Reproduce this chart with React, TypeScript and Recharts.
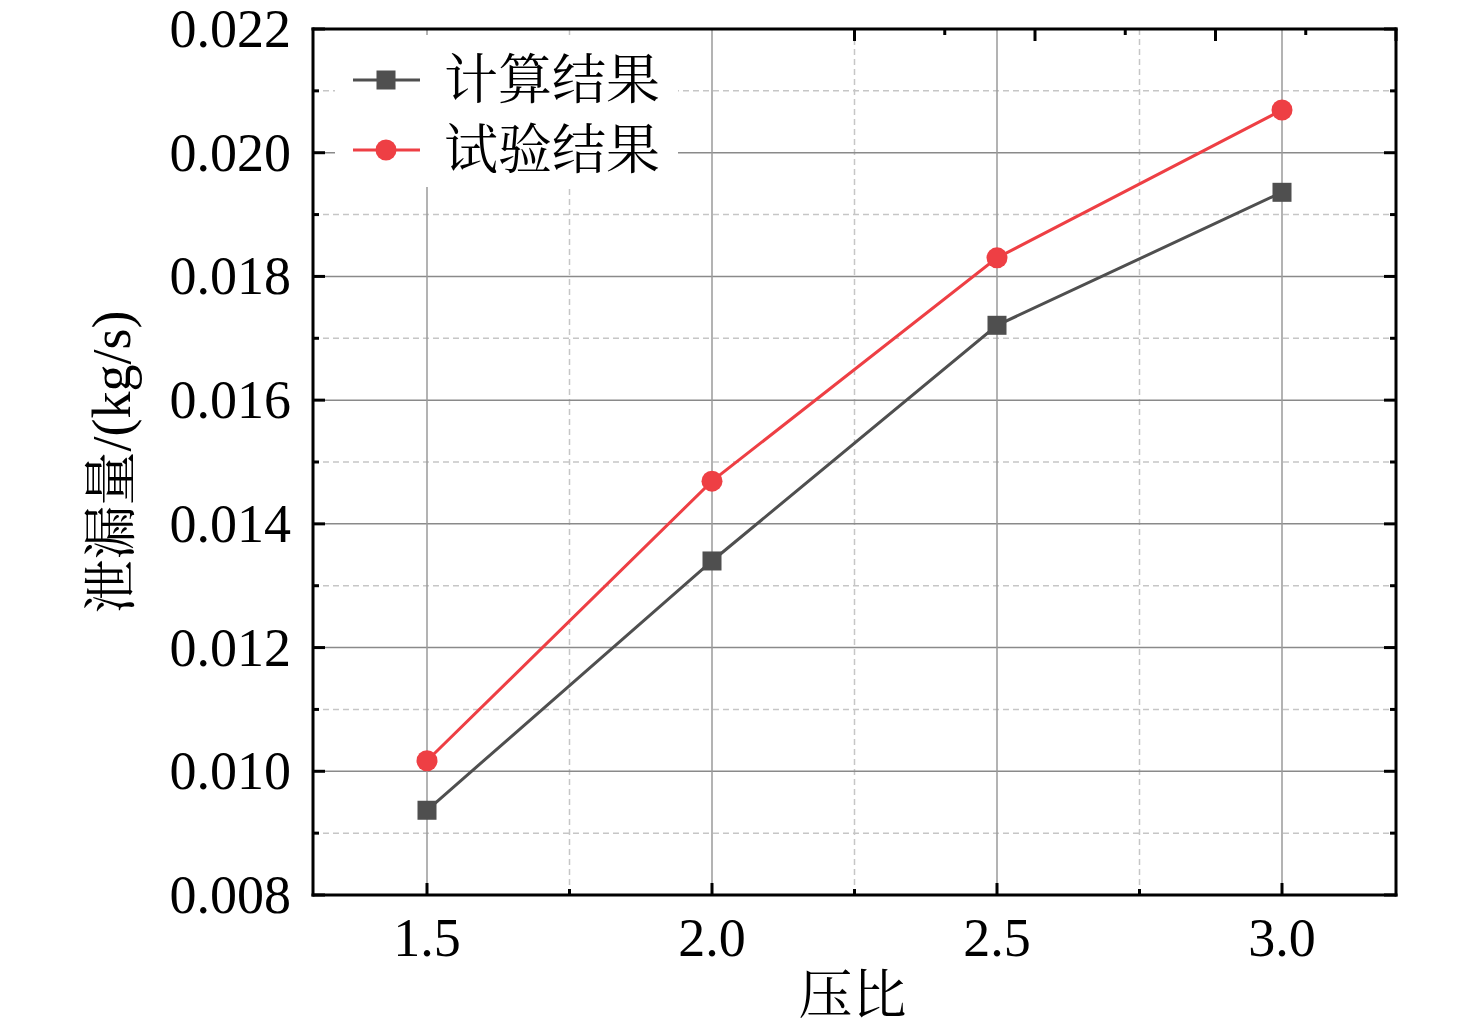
import React from 'react';
import { LineChart, Line, XAxis, YAxis, ReferenceLine, Legend } from 'recharts';

const pressureRatio = [1.5, 2.0, 2.5, 3.0];
const calcLeak = [0.00937, 0.0134, 0.01721, 0.01936];
const testLeak = [0.01017, 0.01469, 0.0183, 0.02069];

const xMajorTicks = [1.5, 2.0, 2.5, 3.0];
const xMinorTicks = [1.75, 2.25, 2.75];
const yMajorTicks = [0.008, 0.01, 0.012, 0.014, 0.016, 0.018, 0.02, 0.022];
const yMinorTicks = [0.009, 0.011, 0.013, 0.015, 0.017, 0.019, 0.021];

const seriesNames = { calc: '计算结果', test: '试验结果' };
const xTitle = '压比';
const yTitle = '泄漏量/(kg/s)';

const data = pressureRatio.map((x, i) => ({ x, calc: calcLeak[i], test: testLeak[i] }));

const FONT = "'Liberation Serif', 'Times New Roman', 'Noto Serif CJK SC', 'Noto Sans CJK SC', serif";
const CALC_COLOR = '#4f4f4f';
const TEST_COLOR = '#ee3f44';
const MAJOR_LEN = 12;
const MINOR_LEN = 6;

const xTicksAll = [...xMajorTicks, ...xMinorTicks].sort((a, b) => a - b);
const yTicksAll = [...yMajorTicks, ...yMinorTicks].sort((a, b) => a - b);
const xMajorSet = new Set(xMajorTicks);
const yMajorSet = new Set(yMajorTicks);

const makeTick = (orient: 'left' | 'right' | 'top' | 'bottom') => (props: any) => {
  const { x, y, payload } = props;
  const v = payload.value;
  const isX = orient === 'top' || orient === 'bottom';
  const major = isX ? xMajorSet.has(v) : yMajorSet.has(v);
  const len = major ? MAJOR_LEN : MINOR_LEN;
  let line;
  if (orient === 'left') line = <line x1={x} y1={y} x2={x + len} y2={y} stroke="#000" strokeWidth={3} />;
  else if (orient === 'right') line = <line x1={x} y1={y} x2={x - len} y2={y} stroke="#000" strokeWidth={3} />;
  else if (orient === 'top') line = <line x1={x} y1={y} x2={x} y2={y + len} stroke="#000" strokeWidth={3} />;
  else line = <line x1={x} y1={y} x2={x} y2={y - len} stroke="#000" strokeWidth={3} />;
  let label = null;
  if (major && orient === 'left') {
    label = (
      <text x={x - 22} y={y} textAnchor="end" dominantBaseline="central" fontSize={54} fontFamily={FONT} fill="#000">
        {v.toFixed(3)}
      </text>
    );
  } else if (major && orient === 'bottom') {
    label = (
      <text x={x} y={y + 43} textAnchor="middle" dominantBaseline="central" fontSize={54} fontFamily={FONT} fill="#000">
        {v.toFixed(1)}
      </text>
    );
  }
  return (
    <g>
      {line}
      {label}
    </g>
  );
};

const SquareDot = (props: any) => {
  const { cx, cy } = props;
  if (cx == null || cy == null) return null;
  return <rect x={cx - 9.5} y={cy - 9.5} width={19} height={19} fill={CALC_COLOR} />;
};
const CircleDot = (props: any) => {
  const { cx, cy } = props;
  if (cx == null || cy == null) return null;
  return <circle cx={cx} cy={cy} r={10.5} fill={TEST_COLOR} />;
};

const LegendContent = (props: any) => {
  const payload = props.payload || [];
  return (
    <svg width={343} height={152} style={{ display: 'block' }}>
      <rect x={0} y={0} width={343} height={152} fill="#fff" />
      {payload.map((p: any, i: number) => {
        const cy = 45 + i * 70;
        const isCalc = p.dataKey === 'calc';
        const color = isCalc ? CALC_COLOR : TEST_COLOR;
        return (
          <g key={p.dataKey}>
            <line x1={18} y1={cy} x2={85} y2={cy} stroke={color} strokeWidth={3} />
            {isCalc ? (
              <rect x={51 - 9.5} y={cy - 9.5} width={19} height={19} fill={color} />
            ) : (
              <circle cx={51} cy={cy} r={10.5} fill={color} />
            )}
            <text x={109} y={cy + 1} dominantBaseline="central" fontSize={54} fontFamily={FONT} fill="#000">
              {p.value}
            </text>
          </g>
        );
      })}
    </svg>
  );
};

export default function App() {
  return (
    <div style={{ width: 1460, height: 1016, position: 'relative', background: '#fff' }}>
      <style>{'.recharts-surface{overflow:visible}'}</style>
      <LineChart
        width={1460}
        height={1016}
        data={data}
        margin={{ top: 11, right: 62, bottom: 69, left: 105 }}
      >
        {yMinorTicks.map((v) => (
          <ReferenceLine key={'ym' + v} y={v} stroke="#c6c6c6" strokeWidth={1.5} strokeDasharray="6 4" />
        ))}
        {xMinorTicks.map((v) => (
          <ReferenceLine key={'xm' + v} x={v} stroke="#c6c6c6" strokeWidth={1.5} strokeDasharray="6 4" />
        ))}
        {yMajorTicks.map((v) => (
          <ReferenceLine key={'yM' + v} y={v} stroke="#8a8a8a" strokeWidth={1.5} />
        ))}
        {xMajorTicks.map((v) => (
          <ReferenceLine key={'xM' + v} x={v} stroke="#9a9a9a" strokeWidth={1.5} />
        ))}
        <XAxis
          xAxisId={0}
          dataKey="x"
          type="number"
          domain={[1.3, 3.2]}
          allowDataOverflow
          ticks={xTicksAll}
          interval={0}
          height={60}
          tickSize={0}
          tickMargin={0}
          tickLine={false}
          axisLine={{ stroke: '#000', strokeWidth: 3, strokeLinecap: 'square' }}
          tick={makeTick('bottom')}
          label={(p: any) => {
            const vb = p.viewBox || {};
            return (
              <text
                x={vb.x + vb.width / 2 - 2}
                y={vb.y + 101}
                textAnchor="middle"
                dominantBaseline="central"
                fontSize={54}
                fontFamily={FONT}
                fill="#000"
              >
                {xTitle}
              </text>
            );
          }}
        />
        <XAxis
          xAxisId="top"
          orientation="top"
          type="number"
          domain={[1.3, 3.2]}
          allowDataOverflow
          ticks={xTicksAll}
          interval={0}
          height={10}
          tickSize={0}
          tickMargin={0}
          tickLine={false}
          axisLine={{ stroke: '#000', strokeWidth: 3, strokeLinecap: 'square' }}
          tick={makeTick('top')}
        />
        <YAxis
          yAxisId={0}
          type="number"
          domain={[0.008, 0.022]}
          allowDataOverflow
          ticks={yTicksAll}
          interval={0}
          width={200}
          tickSize={0}
          tickMargin={0}
          tickLine={false}
          axisLine={{ stroke: '#000', strokeWidth: 3, strokeLinecap: 'square' }}
          tick={makeTick('left')}
          label={(p: any) => {
            const vb = p.viewBox || {};
            const cx = vb.x - 1;
            const cy = vb.y + vb.height / 2;
            return (
              <text
                x={cx}
                y={cy}
                transform={`rotate(-90, ${cx}, ${cy})`}
                textAnchor="middle"
                dominantBaseline="central"
                fontSize={54}
                fontFamily={FONT}
                fill="#000"
              >
                {yTitle}
              </text>
            );
          }}
        />
        <YAxis
          yAxisId="right"
          orientation="right"
          type="number"
          domain={[0.008, 0.022]}
          allowDataOverflow
          ticks={yTicksAll}
          interval={0}
          width={10}
          tickSize={0}
          tickMargin={0}
          tickLine={false}
          axisLine={{ stroke: '#000', strokeWidth: 3, strokeLinecap: 'square' }}
          tick={makeTick('right')}
        />
        <Legend
          layout="horizontal"
          verticalAlign="middle"
          align="center"
          content={LegendContent}
          wrapperStyle={{ position: 'absolute', left: 327, top: 27, width: 343, height: 152 }}
        />
        <Line
          dataKey="calc"
          name={seriesNames.calc}
          stroke={CALC_COLOR}
          strokeWidth={3}
          dot={SquareDot}
          activeDot={false}
          isAnimationActive={false}
        />
        <Line
          dataKey="test"
          name={seriesNames.test}
          stroke={TEST_COLOR}
          strokeWidth={3}
          dot={CircleDot}
          activeDot={false}
          isAnimationActive={false}
        />
      </LineChart>
    </div>
  );
}
